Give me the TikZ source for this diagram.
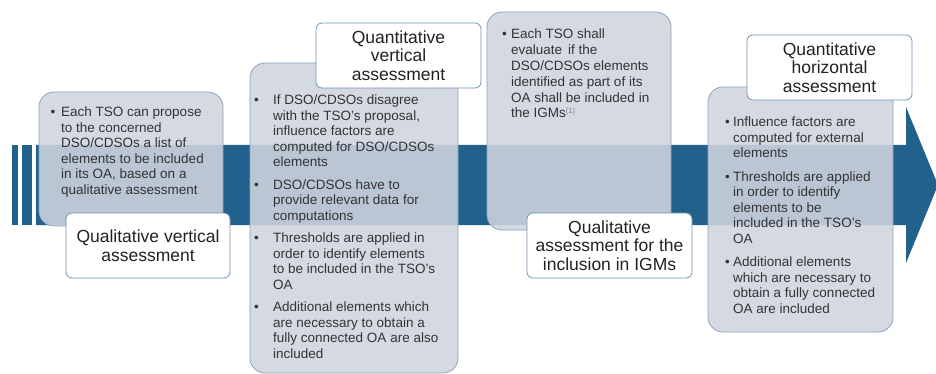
\documentclass[tikz,border=0pt]{standalone}
\usepackage{fontspec}
\setmainfont{Liberation Sans}
\definecolor{band}{HTML}{23618D}
\definecolor{panelfill}{HTML}{CFD5DE}
\definecolor{panelline}{HTML}{8CA3BC}
\definecolor{tagline}{HTML}{6F93B5}
\definecolor{bodytext}{HTML}{333333}
\definecolor{tagtext}{HTML}{222222}
\newlength\bw
\newcommand\itm{\makebox[\bw][l]{\textbullet}}
\newcommand\ind{\hspace*{\bw}}
\newcommand\fnref[1]{{\color{gray}\fontsize{7.5}{7.5}\selectfont\raisebox{4pt}{#1}}}
\tikzset{
  panel/.style={draw=panelline, line width=0.8pt, fill=panelfill, fill opacity=0.88, rounded corners=15pt},
  tag/.style={draw=tagline, line width=0.8pt, fill=white, rounded corners=6pt},
  tagtxt/.style={text=tagtext, font=\fontsize{17.5}{18.5}\selectfont, align=center, inner sep=0pt},
  bullets/.style={text=bodytext, font=\fontsize{13.5}{15.5}\selectfont, align=left, inner sep=0pt, anchor=north west},
  indent/.style={execute at begin node={\global\bw=#1\relax}},
  bandfill/.style={fill=band, draw=none},
}
\begin{document}
\begin{tikzpicture}[x=1pt, y=-1pt]
  \useasboundingbox (0,0) rectangle (936,374);
  % process arrow with its leading stripes
  \fill[band] (12,145) rectangle (18,225);
  \fill[band] (22,145) rectangle (32,225);
  \path[bandfill] (36,145) -- (906,145) -- (906,107) -- (938,185) -- (906,263) -- (906,225) -- (36,225) -- cycle;

  % step 1
  \path[panel] (39,92) rectangle (223,226);
  \node[bullets, indent=10.5pt] (t1) at (50.5,107) {%
    \itm Each TSO can propose\\
    \ind to the concerned\\
    \ind DSO/CDSOs a list of\\
    \ind elements to be included\\
    \ind in its OA, based on a\\
    \ind qualitative assessment};
  \path[tag] (66,213) rectangle (230,278);
  \node[tagtxt] (l1) at (148,245.5) {Qualitative vertical\\assessment};

  % step 2
  \path[panel] (250,63) rectangle (458,373);
  \node[bullets, indent=19pt] (t2) at (254,95) {%
    \itm If DSO/CDSOs disagree\\
    \ind with the TSO’s proposal,\\
    \ind influence factors are\\
    \ind computed for DSO/CDSOs\\
    \ind elements\\[7pt]
    \itm DSO/CDSOs have to\\
    \ind provide relevant data for\\
    \ind computations\\[7pt]
    \itm Thresholds are applied in\\
    \ind order to identify elements\\
    \ind to be included in the TSO’s\\
    \ind OA\\[7pt]
    \itm Additional elements which\\
    \ind are necessary to obtain a\\
    \ind fully connected OA are also\\
    \ind included};
  \path[tag] (316,23) rectangle (481,88);
  \node[tagtxt] (l2) at (398.5,55.5) {Quantitative\\vertical\\assessment};

  % step 3
  \path[panel] (487,12) rectangle (671,230);
  \node[bullets, indent=9pt, font=\fontsize{13.5}{15.8}\selectfont] (t3) at (502,29) {%
    \itm Each TSO shall\\
    \ind evaluate\, if the\\
    \ind DSO/CDSOs elements\\
    \ind identified as part of its\\
    \ind OA shall be included in\\
    \ind the IGMs\fnref{(1)}};
  \path[tag] (527,213) rectangle (692,278);
  \node[tagtxt] (l3) at (609.5,245.5) {Qualitative\\assessment for the\\inclusion in IGMs};

  % step 4
  \path[panel] (708,87) rectangle (893,332);
  \node[bullets, indent=8pt] (t4) at (725,117) {%
    \itm Influence factors are\\
    \ind computed for external\\
    \ind elements\\[8pt]
    \itm Thresholds are applied\\
    \ind in order to identify\\
    \ind elements to be\\
    \ind included in the TSO’s\\
    \ind OA\\[8pt]
    \itm Additional elements\\
    \ind which are necessary to\\
    \ind obtain a fully connected\\
    \ind OA are included};
  \path[tag] (747,35) rectangle (912,100);
  \node[tagtxt] (l4) at (829.5,67.5) {Quantitative\\horizontal\\assessment};
\end{tikzpicture}
\end{document}
